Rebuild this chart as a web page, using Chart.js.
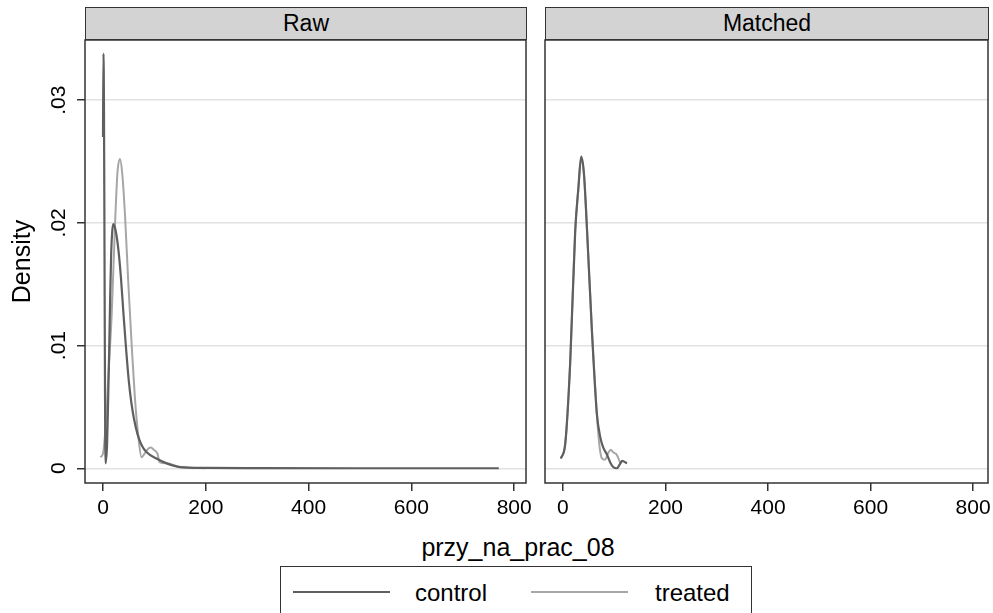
<!DOCTYPE html>
<html>
<head>
<meta charset="utf-8">
<script src="https://cdn.jsdelivr.net/npm/chart.js@4"></script>
<style>
  html, body { margin: 0; padding: 0; background: #fff; overflow: hidden; }
  body { width: 993px; height: 613px; position: relative; font-family: "Liberation Sans", Arial, Helvetica, sans-serif; }
  .wrap { position: absolute; }
  .head { position: absolute; top: 7px; height: 33px; box-sizing: border-box; background: #d3d3d3;
          border: 1.5px solid #333; font-size: 23px; line-height: 31px; text-align: center; color: #000; }
  #xtitle { position: absolute; left: 318px; width: 400px; top: 533px; text-align: center; font-size: 25px; color: #000; }
  #legend { position: absolute; left: 280px; top: 566px; width: 472px; height: 70px; box-sizing: border-box;
            border: 1.5px solid #333; }
  .lline { position: absolute; top: 24px; height: 0; }
  .ltext { position: absolute; top: 12px; font-size: 24px; color: #000; }
</style>
</head>
<body>
<div class="wrap" style="left:0;top:0;width:545px;height:530px"><canvas id="raw"></canvas></div>
<div class="wrap" style="left:537px;top:0;width:456px;height:530px"><canvas id="matched"></canvas></div>
<div class="head" id="h0" style="left:85px;width:442px"></div>
<div class="head" id="h1" style="left:545px;width:444px"></div>
<div id="xtitle"></div>
<div id="legend">
  <div class="lline" style="left:12px;width:97px;border-top:2px solid #5f5f5f"></div>
  <div class="ltext" id="l0" style="left:134px"></div>
  <div class="lline" style="left:250px;width:97px;border-top:2px solid #a6a6a6"></div>
  <div class="ltext" id="l1" style="left:374px"></div>
</div>
<script>
const panelTitles = ["Raw", "Matched"];
const seriesNames = ["control", "treated"];
const xTitle = "przy_na_prac_08";
const yTitle = "Density";
const xTicks = [0, 200, 400, 600, 800];
const yTicks = [0, 0.01, 0.02, 0.03];

// Raw panel
const rawControlX = [0, 1, 5, 8, 10, 12, 14, 16, 18, 20, 25, 30, 35, 40, 45, 50, 55, 60, 67, 75, 85, 104, 124, 150, 200, 300, 500, 770];
const rawControlY = [0.0270, 0.0338, 0.0004, 0.0020, 0.0055, 0.0095, 0.0140, 0.0176, 0.0193, 0.0199, 0.0193, 0.0178, 0.0155, 0.0125, 0.0097, 0.0072, 0.0054, 0.0041, 0.0028, 0.0019, 0.0013, 0.0008, 0.0004, 0.0001, 0.00003, 0.00001, 0.0, 0.0];
const rawTreatedX = [-5, 0, 3, 7, 10, 17, 23, 28, 33, 37.5, 43, 49, 56, 62, 69, 75, 81, 88, 93, 99, 106, 110, 124, 150, 200];
const rawTreatedY = [0.0009, 0.0012, 0.0023, 0.0045, 0.0072, 0.0126, 0.0194, 0.0240, 0.0252, 0.0240, 0.0205, 0.0153, 0.0099, 0.0058, 0.0025, 0.0009, 0.0012, 0.0016, 0.0017, 0.0015, 0.0012, 0.0005, 0.0004, 0.0001, 0.0];

// Matched panel
const matchedControlX = [-4, 4.5, 14, 24, 30, 35.6, 41, 47, 56.5, 66, 73, 78.5, 86, 92, 98, 105, 112, 115.5, 125];
const matchedControlY = [0.0008, 0.0020, 0.0085, 0.0194, 0.0228, 0.0254, 0.0240, 0.0194, 0.0112, 0.0045, 0.0025, 0.0017, 0.0011, 0.0005, 0.0001, 0.0, 0.0004, 0.0006, 0.0004];
const matchedTreatedX = [-4, 4.5, 14, 24, 30, 35.6, 41, 47, 56.5, 66, 71, 76, 82, 89, 93.5, 98, 105, 112];
const matchedTreatedY = [0.0008, 0.0020, 0.0085, 0.0194, 0.0227, 0.0253, 0.0239, 0.0194, 0.0112, 0.0045, 0.0019, 0.0008, 0.0007, 0.0013, 0.0015, 0.0013, 0.0011, 0.0004];

const colors = ["#5f5f5f", "#a6a6a6"];
const FONT = "'Liberation Sans', Arial, Helvetica, sans-serif";

document.getElementById("h0").textContent = panelTitles[0];
document.getElementById("h1").textContent = panelTitles[1];
document.getElementById("xtitle").textContent = xTitle;
document.getElementById("l0").textContent = seriesNames[0];
document.getElementById("l1").textContent = seriesNames[1];

const toPts = (xs, ys) => xs.map((x, i) => ({ x: x, y: ys[i] }));

const boxPlugin = {
  id: "box",
  afterDraw(chart) {
    const a = chart.chartArea, ctx = chart.ctx;
    ctx.save();
    ctx.strokeStyle = "#333";
    ctx.lineWidth = 1.5;
    ctx.strokeRect(a.left, a.top, a.right - a.left, a.bottom - a.top);
    ctx.restore();
  }
};

function makePanel(id, ctrl, trt, showY, xMax, yWidth, padRight) {
  return new Chart(document.getElementById(id), {
    type: "scatter",
    data: {
      datasets: [
        { label: seriesNames[0], data: ctrl, borderColor: colors[0], borderWidth: 2.2 },
        { label: seriesNames[1], data: trt, borderColor: colors[1], borderWidth: 2 }
      ].map(d => Object.assign(d, { showLine: true, pointRadius: 0, cubicInterpolationMode: "monotone", fill: false }))
    },
    options: {
      animation: false,
      responsive: true,
      maintainAspectRatio: false,
      layout: { padding: { top: 40, right: padRight, left: 0, bottom: 0 } },
      plugins: { legend: { display: false }, tooltip: { enabled: false } },
      scales: {
        x: {
          type: "linear", min: -35, max: xMax,
          afterBuildTicks: s => { s.ticks = xTicks.map(v => ({ value: v })); },
          afterFit: s => { s.height = 47; s.paddingLeft = 0; s.paddingRight = 0; },
          border: { display: false },
          grid: { drawOnChartArea: false, color: "#333", tickLength: 8, lineWidth: 1.5 },
          ticks: { color: "#000", padding: 5, maxRotation: 0, font: { family: FONT, size: 21 } }
        },
        y: {
          min: -0.0012, max: 0.0349,
          afterBuildTicks: s => { s.ticks = yTicks.map(v => ({ value: v })); },
          afterFit: s => { s.width = yWidth; s.paddingTop = 0; s.paddingBottom = 0; },
          border: { display: false },
          grid: { color: "#e2e2e2", lineWidth: 1.5, tickColor: "#333", tickLength: showY ? 8 : 0, drawTicks: showY },
          ticks: {
            display: showY, color: "#000", minRotation: 90, maxRotation: 90, crossAlign: "center",
            font: { family: FONT, size: 21 },
            callback: v => v === 0 ? "0" : String(v).replace(/^0/, "")
          },
          title: { display: showY, text: yTitle, color: "#000", font: { family: FONT, size: 25 }, padding: { top: 8 } }
        }
      }
    },
    plugins: [boxPlugin]
  });
}

makePanel("raw", toPts(rawControlX, rawControlY), toPts(rawTreatedX, rawTreatedY), true, 823, 85, 19);
makePanel("matched", toPts(matchedControlX, matchedControlY), toPts(matchedTreatedX, matchedTreatedY), false, 829, 8, 5);
</script>
</body>
</html>
